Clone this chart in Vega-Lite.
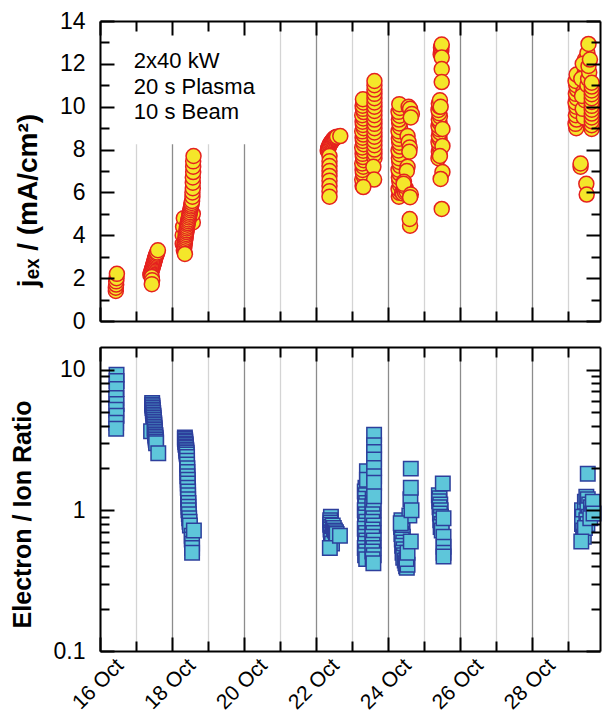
{
  "$schema": "https://vega.github.io/schema/vega-lite/v6.json",
  "background": "white",
  "padding": {"left": 10, "top": 10, "right": 0, "bottom": 0},
  "spacing": 13,
  "config": {
    "view": {"stroke": null},
    "axis": {
      "labelFont": "Liberation Sans", "titleFont": "Liberation Sans",
      "labelColor": "black", "titleColor": "black",
      "domainColor": "black", "domainWidth": 2,
      "tickColor": "black", "tickWidth": 2,
      "labelFontSize": 23, "titleFontSize": 25, "titleFontWeight": "bold",
      "labelOverlap": false, "labelFlush": false
    }
  },
  "datasets": {
    "jex": [
      {"day":16.44,"jex":1.4},{"day":16.44,"jex":1.55},{"day":16.45,"jex":1.7},{"day":16.45,"jex":1.85},{"day":16.46,"jex":2.0},{"day":16.47,"jex":2.2},
      {"day":17.40,"jex":2.15},{"day":17.41,"jex":2.2},{"day":17.42,"jex":2.26},{"day":17.43,"jex":2.32},{"day":17.44,"jex":2.38},{"day":17.45,"jex":2.43},{"day":17.46,"jex":2.49},{"day":17.47,"jex":2.55},{"day":17.48,"jex":2.6},{"day":17.49,"jex":2.66},{"day":17.50,"jex":2.72},{"day":17.51,"jex":2.78},{"day":17.52,"jex":2.84},{"day":17.53,"jex":2.9},{"day":17.54,"jex":2.96},{"day":17.55,"jex":3.02},{"day":17.56,"jex":3.08},{"day":17.58,"jex":3.14},{"day":17.59,"jex":3.2},{"day":17.61,"jex":3.3},
      {"day":17.44,"jex":2.05},{"day":17.45,"jex":1.9},{"day":17.44,"jex":1.72},
      {"day":18.30,"jex":3.6},{"day":18.30,"jex":4.0},{"day":18.31,"jex":4.4},{"day":18.33,"jex":4.8},{"day":18.58,"jex":4.6},{"day":18.58,"jex":5.0},
      {"day":18.33,"jex":3.30},{"day":18.34,"jex":3.38},{"day":18.34,"jex":3.47},{"day":18.35,"jex":3.55},{"day":18.36,"jex":3.64},{"day":18.36,"jex":3.72},{"day":18.37,"jex":3.81},{"day":18.38,"jex":3.89},{"day":18.38,"jex":3.98},{"day":18.39,"jex":4.06},{"day":18.40,"jex":4.15},{"day":18.41,"jex":4.23},{"day":18.41,"jex":4.32},{"day":18.42,"jex":4.40},{"day":18.43,"jex":4.49},{"day":18.44,"jex":4.57},{"day":18.45,"jex":4.66},{"day":18.46,"jex":4.74},{"day":18.47,"jex":4.83},{"day":18.48,"jex":4.91},{"day":18.49,"jex":5.00},{"day":18.50,"jex":5.08},{"day":18.51,"jex":5.17},{"day":18.52,"jex":5.25},{"day":18.53,"jex":5.34},{"day":18.54,"jex":5.42},{"day":18.55,"jex":5.51},{"day":18.56,"jex":5.60},
      {"day":18.57,"jex":5.8},{"day":18.57,"jex":6.0},{"day":18.58,"jex":6.2},{"day":18.58,"jex":6.45},{"day":18.58,"jex":6.7},{"day":18.59,"jex":6.95},{"day":18.59,"jex":7.2},{"day":18.59,"jex":7.45},{"day":18.60,"jex":7.7},
      {"day":18.36,"jex":3.13},
      {"day":22.33,"jex":7.95},{"day":22.34,"jex":8.02},{"day":22.35,"jex":8.08},{"day":22.36,"jex":8.14},{"day":22.38,"jex":8.2},{"day":22.39,"jex":8.25},{"day":22.41,"jex":8.3},{"day":22.43,"jex":8.35},{"day":22.45,"jex":8.4},{"day":22.47,"jex":8.44},{"day":22.49,"jex":8.48},{"day":22.51,"jex":8.52},{"day":22.53,"jex":8.55},{"day":22.56,"jex":8.58},{"day":22.59,"jex":8.6},{"day":22.68,"jex":8.63},
      {"day":22.38,"jex":7.7},{"day":22.38,"jex":7.45},{"day":22.38,"jex":7.23},{"day":22.38,"jex":7.0},{"day":22.38,"jex":6.77},{"day":22.38,"jex":6.55},{"day":22.38,"jex":6.3},{"day":22.38,"jex":6.05},{"day":22.38,"jex":5.8},
      {"day":23.30,"jex":6.30},{"day":23.32,"jex":6.45},{"day":23.29,"jex":6.60},{"day":23.33,"jex":6.75},{"day":23.31,"jex":6.90},{"day":23.30,"jex":7.05},{"day":23.32,"jex":7.20},{"day":23.29,"jex":7.35},{"day":23.33,"jex":7.50},{"day":23.31,"jex":7.65},{"day":23.30,"jex":7.80},{"day":23.32,"jex":7.95},{"day":23.29,"jex":8.10},{"day":23.33,"jex":8.25},{"day":23.31,"jex":8.40},{"day":23.30,"jex":8.55},{"day":23.32,"jex":8.70},{"day":23.29,"jex":8.85},{"day":23.33,"jex":9.00},{"day":23.31,"jex":9.15},{"day":23.30,"jex":9.30},{"day":23.32,"jex":9.45},{"day":23.29,"jex":9.60},{"day":23.33,"jex":9.75},{"day":23.31,"jex":9.90},{"day":23.30,"jex":10.05},{"day":23.32,"jex":10.20},{"day":23.31,"jex":10.35},
      {"day":23.63,"jex":7.6},{"day":23.63,"jex":7.8},{"day":23.63,"jex":8.0},{"day":23.63,"jex":8.2},{"day":23.63,"jex":8.4},{"day":23.63,"jex":8.6},{"day":23.63,"jex":8.8},{"day":23.63,"jex":9.0},{"day":23.63,"jex":9.2},{"day":23.63,"jex":9.4},{"day":23.63,"jex":9.6},{"day":23.63,"jex":9.8},{"day":23.63,"jex":10.0},{"day":23.63,"jex":10.2},{"day":23.63,"jex":10.4},{"day":23.63,"jex":10.6},{"day":23.63,"jex":10.8},{"day":23.63,"jex":11.0},{"day":23.63,"jex":11.2},
      {"day":23.60,"jex":7.2},{"day":23.62,"jex":6.6},{"day":23.32,"jex":6.25},
      {"day":24.31,"jex":5.8},{"day":24.33,"jex":5.98},{"day":24.30,"jex":6.16},{"day":24.34,"jex":6.34},{"day":24.32,"jex":6.52},{"day":24.31,"jex":6.7},{"day":24.33,"jex":6.88},{"day":24.30,"jex":7.06},{"day":24.34,"jex":7.24},{"day":24.32,"jex":7.42},{"day":24.31,"jex":7.6},{"day":24.33,"jex":7.78},{"day":24.30,"jex":7.96},{"day":24.34,"jex":8.14},{"day":24.32,"jex":8.32},{"day":24.31,"jex":8.5},{"day":24.33,"jex":8.68},{"day":24.30,"jex":8.86},{"day":24.34,"jex":9.04},{"day":24.32,"jex":9.22},{"day":24.31,"jex":9.4},{"day":24.33,"jex":9.58},{"day":24.30,"jex":9.76},{"day":24.34,"jex":9.94},{"day":24.32,"jex":10.12},
      {"day":24.40,"jex":6.0},{"day":24.42,"jex":5.95},{"day":24.45,"jex":6.1},{"day":24.48,"jex":6.0},{"day":24.50,"jex":6.2},{"day":24.52,"jex":6.05},{"day":24.46,"jex":6.3},
      {"day":24.58,"jex":10.0},{"day":24.62,"jex":9.9},{"day":24.67,"jex":9.66},{"day":24.64,"jex":9.5},{"day":24.55,"jex":8.63},{"day":24.58,"jex":8.35},{"day":24.61,"jex":8.1},{"day":24.60,"jex":7.9},{"day":24.55,"jex":7.2},{"day":24.53,"jex":7.0},{"day":24.45,"jex":6.5},{"day":24.44,"jex":6.4},{"day":24.64,"jex":5.9},{"day":24.62,"jex":5.78},{"day":24.62,"jex":4.45},{"day":24.61,"jex":4.76},
      {"day":25.41,"jex":7.6},{"day":25.44,"jex":7.75},{"day":25.42,"jex":7.9},{"day":25.45,"jex":8.05},{"day":25.43,"jex":8.2},{"day":25.41,"jex":8.35},{"day":25.44,"jex":8.5},{"day":25.42,"jex":8.65},{"day":25.45,"jex":8.8},{"day":25.43,"jex":8.95},{"day":25.41,"jex":9.1},{"day":25.44,"jex":9.25},{"day":25.42,"jex":9.4},{"day":25.45,"jex":9.55},{"day":25.43,"jex":9.7},{"day":25.41,"jex":9.85},{"day":25.44,"jex":10.0},{"day":25.42,"jex":10.15},{"day":25.45,"jex":10.3},
      {"day":25.47,"jex":12.45},{"day":25.48,"jex":12.55},{"day":25.49,"jex":12.65},{"day":25.48,"jex":12.75},{"day":25.49,"jex":12.85},{"day":25.50,"jex":12.9},
      {"day":25.50,"jex":12.3},{"day":25.50,"jex":11.76},{"day":25.50,"jex":11.15},{"day":25.47,"jex":10.0},{"day":25.52,"jex":8.96},{"day":25.52,"jex":8.17},{"day":25.45,"jex":7.7},{"day":25.52,"jex":6.95},{"day":25.47,"jex":6.63},{"day":25.50,"jex":5.23},
      {"day":29.24,"jex":9.0},{"day":29.22,"jex":9.2},{"day":29.25,"jex":9.4},{"day":29.23,"jex":9.6},{"day":29.26,"jex":9.8},{"day":29.24,"jex":10.0},{"day":29.22,"jex":10.2},{"day":29.25,"jex":10.4},{"day":29.23,"jex":10.6},{"day":29.26,"jex":10.8},{"day":29.24,"jex":11.0},{"day":29.22,"jex":11.2},{"day":29.25,"jex":11.5},
      {"day":29.45,"jex":9.5},{"day":29.42,"jex":9.9},{"day":29.48,"jex":10.3},{"day":29.44,"jex":10.7},{"day":29.50,"jex":11.1},{"day":29.46,"jex":11.5},{"day":29.52,"jex":11.9},{"day":29.48,"jex":12.2},{"day":29.55,"jex":12.5},{"day":29.50,"jex":11.7},{"day":29.40,"jex":10.5},{"day":29.38,"jex":11.3},{"day":29.42,"jex":12.0},
      {"day":29.58,"jex":12.93},
      {"day":29.55,"jex":11.0},{"day":29.57,"jex":11.3},{"day":29.60,"jex":11.6},{"day":29.58,"jex":11.9},{"day":29.62,"jex":12.2},
      {"day":29.67,"jex":8.96},{"day":29.67,"jex":9.14},{"day":29.67,"jex":9.32},{"day":29.67,"jex":9.5},{"day":29.67,"jex":9.68},{"day":29.67,"jex":9.86},{"day":29.67,"jex":10.04},{"day":29.67,"jex":10.22},{"day":29.67,"jex":10.4},{"day":29.67,"jex":10.58},{"day":29.67,"jex":10.76},{"day":29.67,"jex":10.94},{"day":29.67,"jex":11.12},
      {"day":29.36,"jex":7.2},{"day":29.36,"jex":7.35},{"day":29.52,"jex":6.4},{"day":29.53,"jex":5.9}
    ],
    "ratio": [
      {"day":16.46,"ratio":9.2},{"day":16.46,"ratio":8.3},{"day":16.46,"ratio":7.3},{"day":16.45,"ratio":6.3},{"day":16.46,"ratio":5.7},{"day":16.45,"ratio":5.2},{"day":16.46,"ratio":4.7},{"day":16.45,"ratio":4.2},{"day":16.45,"ratio":3.8},
      {"day":17.45,"ratio":5.80},{"day":17.45,"ratio":5.64},{"day":17.46,"ratio":5.49},{"day":17.46,"ratio":5.34},{"day":17.47,"ratio":5.20},{"day":17.47,"ratio":5.06},{"day":17.48,"ratio":4.92},{"day":17.48,"ratio":4.79},{"day":17.49,"ratio":4.66},{"day":17.49,"ratio":4.53},{"day":17.50,"ratio":4.41},{"day":17.50,"ratio":4.29},{"day":17.51,"ratio":4.17},{"day":17.51,"ratio":4.06},{"day":17.51,"ratio":3.95},
      {"day":17.42,"ratio":3.65},
      {"day":17.52,"ratio":3.84},{"day":17.52,"ratio":3.74},{"day":17.53,"ratio":3.64},{"day":17.53,"ratio":3.54},{"day":17.54,"ratio":3.44},{"day":17.54,"ratio":3.35},{"day":17.55,"ratio":3.26},{"day":17.55,"ratio":3.17},{"day":17.56,"ratio":3.08},{"day":17.56,"ratio":3.00},
      {"day":17.62,"ratio":2.55},
      {"day":18.36,"ratio":3.30},{"day":18.36,"ratio":3.22},{"day":18.37,"ratio":3.14},{"day":18.37,"ratio":3.06},{"day":18.38,"ratio":2.98},{"day":18.38,"ratio":2.91},{"day":18.39,"ratio":2.84},{"day":18.39,"ratio":2.77},{"day":18.40,"ratio":2.70},{"day":18.40,"ratio":2.63},{"day":18.41,"ratio":2.57},{"day":18.41,"ratio":2.50},
      {"day":18.42,"ratio":2.40},{"day":18.42,"ratio":2.25},{"day":18.42,"ratio":2.12},{"day":18.43,"ratio":1.99},{"day":18.43,"ratio":1.87},{"day":18.43,"ratio":1.75},{"day":18.44,"ratio":1.65},{"day":18.44,"ratio":1.55},{"day":18.44,"ratio":1.45},{"day":18.45,"ratio":1.36},{"day":18.45,"ratio":1.28},{"day":18.45,"ratio":1.20},{"day":18.46,"ratio":1.13},{"day":18.46,"ratio":1.06},{"day":18.46,"ratio":1.00},
      {"day":18.47,"ratio":0.94},{"day":18.48,"ratio":0.88},{"day":18.49,"ratio":0.83},{"day":18.50,"ratio":0.78},{"day":18.55,"ratio":0.66},{"day":18.55,"ratio":0.62},{"day":18.56,"ratio":0.58},{"day":18.56,"ratio":0.54},{"day":18.56,"ratio":0.5},{"day":18.61,"ratio":0.72},
      {"day":22.42,"ratio":0.9},
      {"day":22.40,"ratio":0.85},{"day":22.41,"ratio":0.82},{"day":22.40,"ratio":0.79},{"day":22.42,"ratio":0.76},{"day":22.41,"ratio":0.73},{"day":22.43,"ratio":0.70},{"day":22.42,"ratio":0.67},{"day":22.44,"ratio":0.64},{"day":22.43,"ratio":0.61},{"day":22.45,"ratio":0.58},{"day":22.47,"ratio":0.78},{"day":22.50,"ratio":0.75},{"day":22.53,"ratio":0.72},{"day":22.56,"ratio":0.70},{"day":22.58,"ratio":0.68},
      {"day":22.39,"ratio":0.54},{"day":22.67,"ratio":0.66},
      {"day":23.38,"ratio":1.45},{"day":23.36,"ratio":1.36},{"day":23.39,"ratio":1.28},{"day":23.37,"ratio":1.21},{"day":23.40,"ratio":1.13},{"day":23.38,"ratio":1.07},{"day":23.36,"ratio":1.00},{"day":23.39,"ratio":0.94},{"day":23.37,"ratio":0.89},{"day":23.40,"ratio":0.83},{"day":23.38,"ratio":0.78},{"day":23.36,"ratio":0.74},{"day":23.39,"ratio":0.69},{"day":23.37,"ratio":0.65},{"day":23.40,"ratio":0.61},{"day":23.38,"ratio":0.58},{"day":23.36,"ratio":0.54},{"day":23.39,"ratio":0.51},{"day":23.37,"ratio":0.48},{"day":23.40,"ratio":0.45},
      {"day":23.58,"ratio":1.20},{"day":23.60,"ratio":1.13},{"day":23.57,"ratio":1.06},{"day":23.61,"ratio":1.00},{"day":23.58,"ratio":0.94},{"day":23.60,"ratio":0.88},{"day":23.57,"ratio":0.83},{"day":23.61,"ratio":0.78},{"day":23.58,"ratio":0.73},{"day":23.60,"ratio":0.69},{"day":23.57,"ratio":0.65},{"day":23.61,"ratio":0.61},{"day":23.58,"ratio":0.57},{"day":23.60,"ratio":0.54},{"day":23.57,"ratio":0.51},{"day":23.61,"ratio":0.48},{"day":23.58,"ratio":0.45},
      {"day":23.42,"ratio":1.9},{"day":23.42,"ratio":1.65},
      {"day":23.62,"ratio":3.45},{"day":23.62,"ratio":2.9},{"day":23.62,"ratio":2.6},{"day":23.62,"ratio":2.3},{"day":23.62,"ratio":2.0},{"day":23.62,"ratio":1.75},{"day":23.62,"ratio":1.57},
      {"day":23.62,"ratio":1.26},{"day":23.60,"ratio":0.42},
      {"day":24.38,"ratio":0.85},{"day":24.40,"ratio":0.80},{"day":24.37,"ratio":0.76},{"day":24.41,"ratio":0.72},{"day":24.38,"ratio":0.68},{"day":24.42,"ratio":0.65},{"day":24.39,"ratio":0.62},{"day":24.43,"ratio":0.59},{"day":24.40,"ratio":0.56},{"day":24.44,"ratio":0.53},{"day":24.41,"ratio":0.50},{"day":24.45,"ratio":0.48},{"day":24.43,"ratio":0.46},{"day":24.47,"ratio":0.44},{"day":24.49,"ratio":0.42},{"day":24.51,"ratio":0.40},{"day":24.53,"ratio":0.39},{"day":24.55,"ratio":0.41},{"day":24.52,"ratio":0.45},{"day":24.55,"ratio":0.50},
      {"day":24.63,"ratio":1.2},{"day":24.60,"ratio":0.92},
      {"day":24.36,"ratio":0.81},{"day":24.64,"ratio":1.98},{"day":24.64,"ratio":1.45},{"day":24.66,"ratio":1.0},{"day":24.64,"ratio":0.6},
      {"day":25.42,"ratio":1.28},{"day":25.44,"ratio":1.22},{"day":25.43,"ratio":1.16},{"day":25.46,"ratio":1.1},{"day":25.44,"ratio":1.05},{"day":25.47,"ratio":1.0},{"day":25.45,"ratio":0.95},{"day":25.48,"ratio":0.9},{"day":25.46,"ratio":0.85},{"day":25.49,"ratio":0.8},{"day":25.47,"ratio":0.76},{"day":25.50,"ratio":0.72},
      {"day":25.53,"ratio":1.55},{"day":25.55,"ratio":0.88},{"day":25.55,"ratio":0.65},{"day":25.55,"ratio":0.55},{"day":25.55,"ratio":0.5},{"day":25.55,"ratio":0.47},
      {"day":29.40,"ratio":1.0},{"day":29.42,"ratio":0.9},{"day":29.40,"ratio":0.8},{"day":29.43,"ratio":0.72},{"day":29.45,"ratio":0.65},{"day":29.48,"ratio":1.15},{"day":29.52,"ratio":1.25},{"day":29.56,"ratio":1.2},{"day":29.60,"ratio":1.1},{"day":29.55,"ratio":1.0},{"day":29.58,"ratio":0.9},{"day":29.52,"ratio":0.85},{"day":29.55,"ratio":0.8},{"day":29.48,"ratio":0.75},{"day":29.65,"ratio":1.05},{"day":29.68,"ratio":0.95},{"day":29.63,"ratio":0.88},{"day":29.70,"ratio":1.15},
      {"day":29.56,"ratio":1.82},{"day":29.38,"ratio":0.6},{"day":29.72,"ratio":0.95}
    ]
  },
  "vconcat": [
    {
      "width": 500,
      "height": 300,
      "resolve": {"axis": {"x": "independent", "y": "independent"}},
      "layer": [
        {
          "data": {"values": [{}]},
          "mark": {"type": "rect", "fill": "white"},
          "encoding": {
            "x": {"datum": 16, "type": "quantitative",
                  "scale": {"domain": [16, 29.9], "nice": false, "zero": false},
                  "axis": {"orient": "top", "values": [16,17,18,19,20,21,22,23,24,25,26,27,28,29], "labels": false, "title": null, "grid": false, "zindex": 1,
                           "tickSize": {"condition": {"test": "datum.value % 2 == 0", "value": -14}, "value": -10}}},
            "x2": {"datum": 20.45},
            "y": {"datum": 8.25, "type": "quantitative",
                  "scale": {"domain": [0, 14], "nice": false, "zero": true},
                  "axis": {"orient": "right", "values": [0,1,2,3,4,5,6,7,8,9,10,11,12,13,14], "labels": false, "title": null, "grid": false, "zindex": 1,
                           "tickSize": {"condition": {"test": "datum.value % 2 == 0", "value": -14}, "value": -9}}},
            "y2": {"datum": 14}
          }
        },
        {
          "data": {"name": "jex"},
          "mark": {"type": "circle", "size": 225, "fill": "#f4e62a", "stroke": "#e5211f", "strokeWidth": 1.5, "opacity": 1},
          "encoding": {
            "x": {"field": "day", "type": "quantitative",
                  "scale": {"domain": [16, 29.9], "nice": false, "zero": false},
                  "axis": {"orient": "bottom", "values": [16,17,18,19,20,21,22,23,24,25,26,27,28,29], "labels": false, "title": null,
                           "grid": true, "gridWidth": 1.3,
                           "gridColor": {"condition": {"test": "datum.value % 2 == 0", "value": "#8c8c8c"}, "value": "#d4d4d4"},
                           "tickSize": {"condition": {"test": "datum.value % 2 == 0", "value": -14}, "value": -10}}},
            "y": {"field": "jex", "type": "quantitative",
                  "scale": {"domain": [0, 14], "nice": false, "zero": true},
                  "axis": {"orient": "left", "values": [0,1,2,3,4,5,6,7,8,9,10,11,12,13,14],
                           "labelExpr": "datum.value % 2 == 0 ? datum.label : ''",
                           "labelPadding": 29, "grid": false, "zindex": 1,
                           "tickSize": {"condition": {"test": "datum.value % 2 == 0", "value": -14}, "value": -9},
                           "title": "jₑₓ / (mA/cm²)", "titleFontSize": 28, "titleX": -72, "titleY": 179, "titleAngle": -90, "titleAlign": "center", "titleBaseline": "middle"}}
          }
        },
        {
          "data": {"values": [{}]},
          "mark": {"type": "text", "align": "left", "baseline": "middle", "font": "Liberation Sans", "fontSize": 22, "lineHeight": 25.5, "color": "black",
                   "text": ["2x40 kW", "20 s Plasma", "10 s Beam"]},
          "encoding": {
            "x": {"datum": 16.94, "type": "quantitative", "axis": null},
            "y": {"datum": 12.13, "type": "quantitative", "axis": null}
          }
        }
      ]
    },
    {
      "width": 500,
      "height": 304,
      "resolve": {"axis": {"x": "independent", "y": "independent"}},
      "layer": [
        {
          "data": {"name": "ratio"},
          "mark": {"type": "square", "size": 210, "fill": "#5ec6da", "stroke": "#2d3f9c", "strokeWidth": 1.5, "opacity": 1},
          "encoding": {
            "x": {"field": "day", "type": "quantitative",
                  "scale": {"domain": [16, 29.9], "nice": false, "zero": false},
                  "axis": {"orient": "bottom", "values": [16,17,18,19,20,21,22,23,24,25,26,27,28,29],
                           "labelExpr": "datum.value % 2 == 0 ? datum.value + ' Oct' : ''",
                           "labelAngle": -45, "labelAlign": "center", "labelBaseline": "middle", "labelPadding": 47, "labelOffset": -2, "labelFontSize": 21,
                           "title": null, "grid": true, "gridWidth": 1.3,
                           "gridColor": {"condition": {"test": "datum.value % 2 == 0", "value": "#8c8c8c"}, "value": "#d4d4d4"},
                           "tickSize": {"condition": {"test": "datum.value % 2 == 0", "value": -14}, "value": -10}}},
            "y": {"field": "ratio", "type": "quantitative",
                  "scale": {"type": "log", "domain": [0.1, 14.5], "nice": false},
                  "axis": {"orient": "left", "values": [0.1,0.2,0.3,0.4,0.5,0.6,0.7,0.8,0.9,1,2,3,4,5,6,7,8,9,10],
                           "labelExpr": "datum.value == 0.1 ? '0.1' : datum.value == 1 ? '1' : datum.value == 10 ? '10' : ''",
                           "labelPadding": 29, "grid": false, "zindex": 1,
                           "tickSize": {"condition": {"test": "datum.value == 0.1 || datum.value == 1 || datum.value == 10", "value": -14}, "value": -9},
                           "title": "Electron / Ion Ratio", "titleX": -78, "titleY": 167, "titleAngle": -90, "titleAlign": "center", "titleBaseline": "middle"}}
          }
        },
        {
          "data": {"values": [{}]},
          "mark": {"type": "point", "opacity": 0},
          "encoding": {
            "x": {"datum": 20, "type": "quantitative",
                  "scale": {"domain": [16, 29.9], "nice": false, "zero": false},
                  "axis": {"orient": "top", "values": [16,17,18,19,20,21,22,23,24,25,26,27,28,29], "labels": false, "title": null, "grid": false, "zindex": 1,
                           "tickSize": {"condition": {"test": "datum.value % 2 == 0", "value": -14}, "value": -10}}},
            "y": {"datum": 1, "type": "quantitative",
                  "scale": {"type": "log", "domain": [0.1, 14.5], "nice": false},
                  "axis": {"orient": "right", "values": [0.1,0.2,0.3,0.4,0.5,0.6,0.7,0.8,0.9,1,2,3,4,5,6,7,8,9,10], "labels": false, "title": null, "grid": false, "zindex": 1,
                           "tickSize": {"condition": {"test": "datum.value == 0.1 || datum.value == 1 || datum.value == 10", "value": -14}, "value": -9}}}
          }
        }
      ]
    }
  ]
}
